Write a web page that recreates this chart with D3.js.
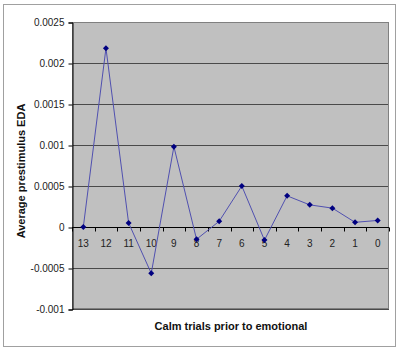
<!DOCTYPE html>
<html><head><meta charset="utf-8">
<script src="https://cdn.jsdelivr.net/npm/d3@7"></script>
<style>body{margin:0;background:#fff}svg{display:block}</style>
</head><body>
<svg id="c" width="400" height="350"></svg>
<script>
const categories = ["13","12","11","10","9","8","7","6","5","4","3","2","1","0"];
const values = [0, 0.00218, 0.00005, -0.000565, 0.00098, -0.00015, 0.00007, 0.0005, -0.00016, 0.00038, 0.00027, 0.00023, 0.000057, 0.00008];
const yTicks = [-0.001, -0.0005, 0, 0.0005, 0.001, 0.0015, 0.002, 0.0025];
const yTickLabels = ["-0.001", "-0.0005", "0", "0.0005", "0.001", "0.0015", "0.002", "0.0025"];
const yTitle = "Average prestimulus EDA";
const xTitle = "Calm trials prior to emotional";

const svg = d3.select("#c");
const L = 72, R = 389, T = 22, B = 309;
const x = d3.scaleBand().domain(categories).range([L, R]);
const y = d3.scaleLinear().domain([-0.001, 0.0025]).range([B, T]);

svg.append("rect").attr("x", 3.5).attr("y", 4.5).attr("width", 392).attr("height", 342)
  .attr("fill", "#fff").attr("stroke", "#a0a0a0").attr("stroke-width", 1);

svg.append("rect").attr("x", L).attr("y", T).attr("width", R - L).attr("height", B - T)
  .attr("fill", "#c0c0c0");

svg.append("g").selectAll("line").data(yTicks.filter(d => d !== 0)).join("line")
  .attr("x1", L).attr("x2", R).attr("y1", d => Math.round(y(d)) + 0.5).attr("y2", d => Math.round(y(d)) + 0.5)
  .attr("stroke", "#4a4a4a").attr("stroke-width", 1);

svg.append("rect").attr("x", L + 0.5).attr("y", T + 0.5).attr("width", R - L - 1).attr("height", B - T - 1)
  .attr("fill", "none").attr("stroke", "#808080").attr("stroke-width", 1);

// y axis
const yAxis = d3.axisLeft(y).tickValues(yTicks).tickFormat((d, i) => yTickLabels[i]).tickSize(4).tickPadding(4);
const ya = svg.append("g").attr("transform", `translate(${L + 0.5},0.5)`).call(yAxis);
ya.select(".domain").attr("stroke", "#000");
ya.selectAll(".tick line").attr("stroke", "#000");
ya.selectAll("text").attr("font-family", "Liberation Sans, Arial, sans-serif").attr("font-size", 10).attr("fill", "#222");

// x axis at zero
const y0 = Math.round(y(0)) + 0.5;
svg.append("line").attr("x1", L).attr("x2", R).attr("y1", y0).attr("y2", y0).attr("stroke", "#000");
const bounds = categories.map(c => x(c)).concat([R]);
svg.append("g").selectAll("line").data(bounds).join("line")
  .attr("x1", d => Math.round(d) + 0.5).attr("x2", d => Math.round(d) + 0.5)
  .attr("y1", y0).attr("y2", y0 + 4).attr("stroke", "#000");
svg.append("g").selectAll("text").data(categories).join("text")
  .attr("x", d => x(d) + x.bandwidth() / 2).attr("y", y0 + 19)
  .attr("text-anchor", "middle").attr("font-family", "Liberation Sans, Arial, sans-serif")
  .attr("font-size", 10).attr("fill", "#222").text(d => d);

// line
const line = d3.line().x((d, i) => x(categories[i]) + x.bandwidth() / 2).y(d => y(d));
svg.append("path").datum(values).attr("d", line).attr("fill", "none")
  .attr("stroke", "#5050b0").attr("stroke-width", 1);
svg.append("g").selectAll("path").data(values).join("path")
  .attr("transform", (d, i) => `translate(${x(categories[i]) + x.bandwidth() / 2},${y(d)})`)
  .attr("d", "M0,-3L3,0L0,3L-3,0Z").attr("fill", "#000080");

// titles
svg.append("text").attr("transform", `translate(25,171) rotate(-90)`)
  .attr("text-anchor", "middle").attr("font-family", "Liberation Sans, Arial, sans-serif")
  .attr("font-size", 11).attr("font-weight", "bold").attr("fill", "#111").text(yTitle);
svg.append("text").attr("x", 231).attr("y", 330)
  .attr("text-anchor", "middle").attr("font-family", "Liberation Sans, Arial, sans-serif")
  .attr("font-size", 11).attr("font-weight", "bold").attr("fill", "#111").text(xTitle);
</script>
</body></html>
